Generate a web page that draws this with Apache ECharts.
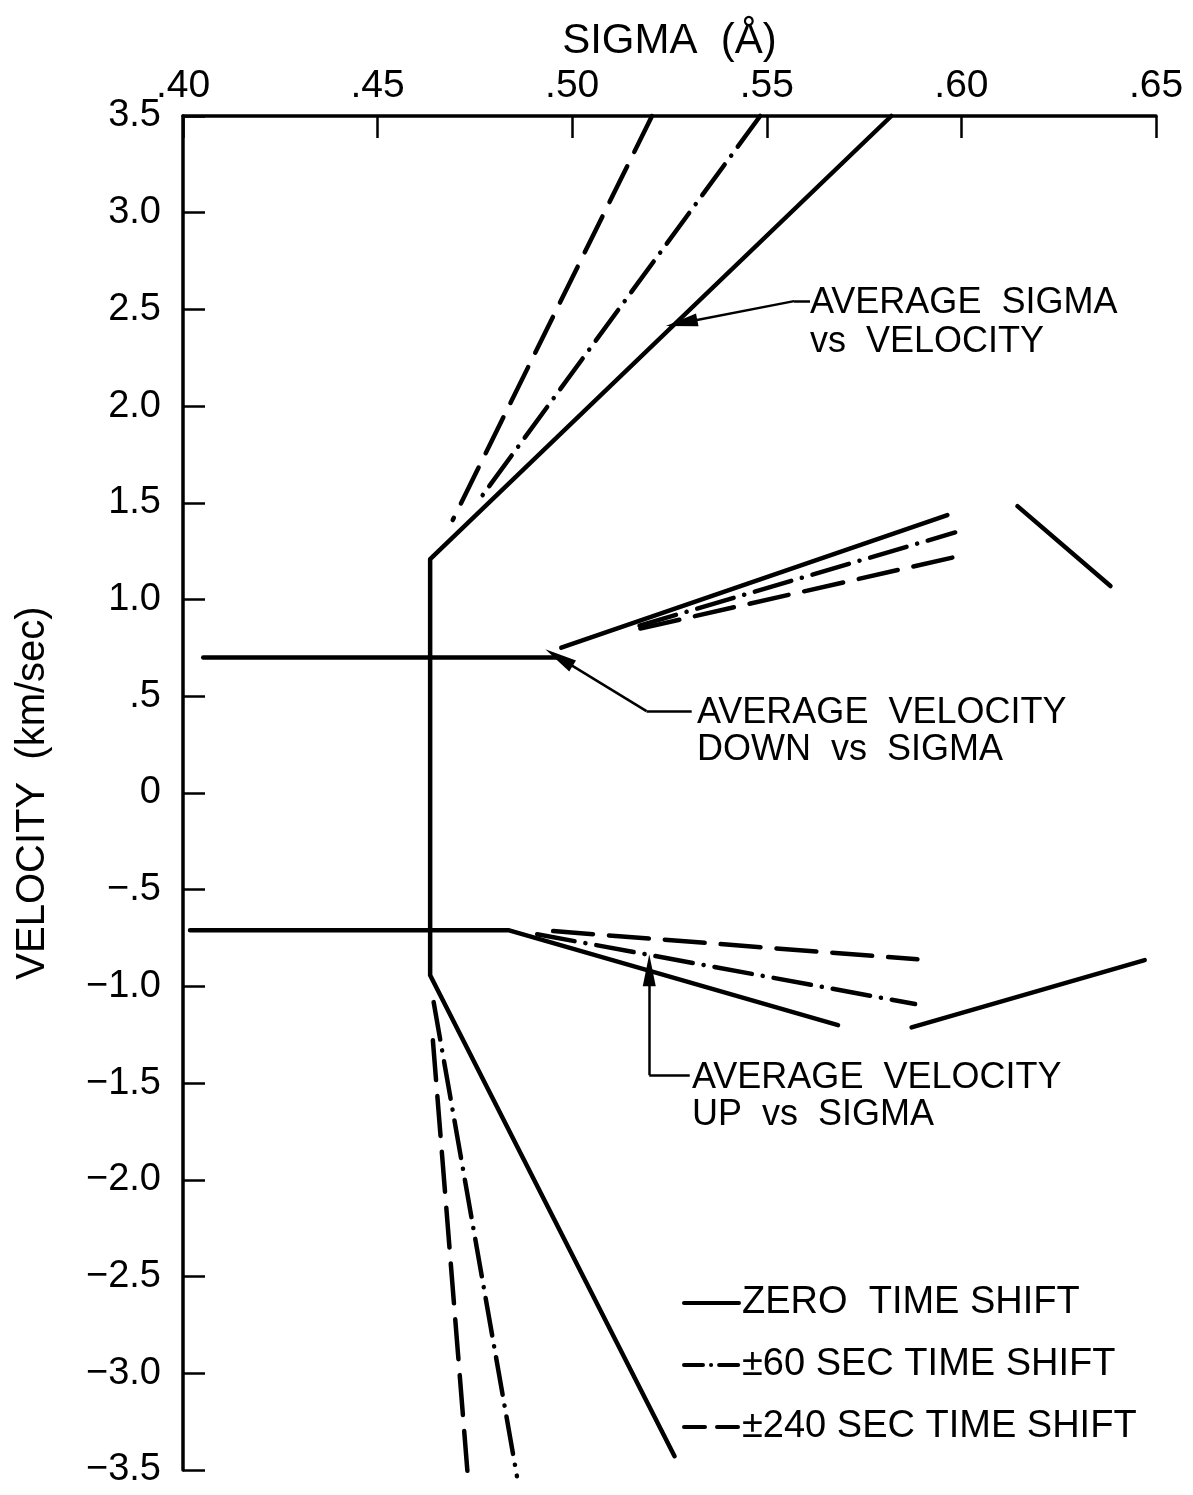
<!DOCTYPE html>
<html>
<head>
<meta charset="utf-8">
<script src="https://cdn.jsdelivr.net/npm/echarts@6/dist/echarts.min.js"></script>
<style>
html,body{margin:0;padding:0;background:#fff;}
#chart{width:1193px;height:1495px;}
</style>
</head>
<body>
<div id="chart"></div>
<script>
// ---- Tick labels ----
const xTickLabels = ['.40', '.45', '.50', '.55', '.60', '.65'];
const yTickLabels = ['\u22123.5','\u22123.0','\u22122.5','\u22122.0','\u22121.5','\u22121.0','\u2212.5','0','.5','1.0','1.5','2.0','2.5','3.0','3.5'];

// ---- Series: [sigma (Å), velocity (km/sec)] ----
// ZERO TIME SHIFT (solid)
const zeroSigmaVsVel = [[0.582, 3.5], [0.4635, 1.209], [0.4635, -0.942], [0.5263, -3.429]];
const zeroDownFlat   = [[0.4052, 0.70], [0.4964, 0.70]];
const zeroDownRise   = [[0.4972, 0.751], [0.5964, 1.437]];
const zeroDownRight  = [[0.6144, 1.483], [0.6383, 1.070]];
const zeroUp         = [[0.4018, -0.71], [0.4838, -0.71], [0.5683, -1.20]];
const zeroUpRight    = [[0.5872, -1.212], [0.6471, -0.864]];
// ±60 SEC TIME SHIFT (dash-dot)
const s60Upper = [[0.5483, 3.5], [0.4755, 1.499]];
const s60Lower = [[0.4644, -1.081], [0.4858, -3.532]];
const s60Down  = [[0.5173, 0.865], [0.5984, 1.347]];
const s60Up    = [[0.4910, -0.730], [0.5881, -1.091]];
// ±240 SEC TIME SHIFT (dashed)
const s240Upper = [[0.5205, 3.5], [0.4693, 1.411]];
const s240Lower = [[0.4642, -1.278], [0.4732, -3.537]];
const s240Down  = [[0.5175, 0.850], [0.5979, 1.218]];
const s240Up    = [[0.4951, -0.714], [0.5887, -0.860]];

// ---- Annotation leaders (data coords): tip, bend, end ----
const leaderSigma = [[0.5281, 2.430], [0.5570, 2.543], [0.5611, 2.543]];
const leaderDown  = [[0.4966, 0.700], [0.5191, 0.4235], [0.5307, 0.4235]];
const leaderUp    = [[0.5198, -0.916], [0.5198, -1.459], [0.5302, -1.459]];

// ---- Legend entries ----
const legendNames = ['ZERO  TIME SHIFT', '\u00b160 SEC TIME SHIFT', '\u00b1240 SEC TIME SHIFT'];

const FONT = 'Liberation Sans, Arial, sans-serif';
const DASHDOT = [38, 11, 0.1, 11];
const DASHED = [40, 16];
const LW = 4.5;

function seg(name, data, type) {
  return {
    name: name, type: 'line', data: data, symbol: 'none', clip: false,
    silent: true, animation: false,
    itemStyle: { color: '#000' },
    lineStyle: { color: '#000', width: LW, type: type, cap: 'round', join: 'round' }
  };
}

function leader(pts) {
  return [
    [{ coord: pts[0], symbol: 'triangle', symbolSize: [13, 32] }, { coord: pts[1], symbol: 'none' }],
    [{ coord: pts[1], symbol: 'none' }, { coord: pts[2], symbol: 'none' }]
  ];
}

const series = [
  seg(legendNames[0], zeroSigmaVsVel, 'solid'),
  seg(legendNames[0], zeroDownFlat, 'solid'),
  seg(legendNames[0], zeroDownRise, 'solid'),
  seg(legendNames[0], zeroDownRight, 'solid'),
  seg(legendNames[0], zeroUp, 'solid'),
  seg(legendNames[0], zeroUpRight, 'solid'),
  seg(legendNames[1], s60Upper, DASHDOT),
  seg(legendNames[1], s60Lower, DASHDOT),
  seg(legendNames[1], s60Down, DASHDOT),
  seg(legendNames[1], s60Up, DASHDOT),
  seg(legendNames[2], s240Upper, DASHED),
  seg(legendNames[2], s240Lower, DASHED),
  seg(legendNames[2], s240Down, DASHED),
  seg(legendNames[2], s240Up, DASHED),
  {
    name: 'annotations', type: 'line', data: [], symbol: 'none', silent: true, animation: false,
    markLine: {
      silent: true, animation: false,
      label: { show: false },
      itemStyle: { color: '#000' },
      lineStyle: { color: '#000', width: 2.5, type: 'solid' },
      data: [].concat(leader(leaderSigma), leader(leaderDown), leader(leaderUp))
    }
  }
];

const chart = echarts.init(document.getElementById('chart'), null, { renderer: 'canvas' });

const annText = (x, y, t, fs) => ({
  type: 'text', x: x, y: y, silent: true, z: 10,
  style: { text: t, fill: '#000', fontSize: fs || 36, fontFamily: FONT, verticalAlign: 'middle', align: 'left' }
});
const keyLine = (y, dash) => ({
  type: 'line', silent: true, z: 10,
  shape: { x1: 684, y1: y, x2: 739, y2: y },
  style: { stroke: '#000', lineWidth: 4, lineDash: dash, lineCap: 'round' }
});

chart.setOption({
  backgroundColor: '#fff',
  animation: false,
  grid: { left: 183, top: 116, right: 37, bottom: 25, containLabel: false },
  xAxis: {
    type: 'value', position: 'top', min: 0.40, max: 0.65, interval: 0.05,
    name: 'SIGMA  (\u00c5)', nameLocation: 'middle', nameGap: 50,
    nameTextStyle: { color: '#000', fontSize: 42, fontFamily: FONT },
    axisLine: { show: true, onZero: false, lineStyle: { color: '#000', width: 3.5 } },
    axisTick: { show: true, inside: true, length: 22, lineStyle: { color: '#000', width: 2.5 } },
    axisLabel: { color: '#000', fontSize: 39, fontFamily: FONT, margin: 10,
      formatter: (v) => xTickLabels[Math.round((v - 0.40) / 0.05)] },
    splitLine: { show: false }
  },
  yAxis: {
    type: 'value', min: -3.5, max: 3.5, interval: 0.5,
    name: 'VELOCITY  (km/sec)', nameLocation: 'middle', nameGap: 130, nameRotate: 90,
    nameTextStyle: { color: '#000', fontSize: 40, fontFamily: FONT },
    axisLine: { show: true, onZero: false, lineStyle: { color: '#000', width: 3.5 } },
    axisTick: { show: true, inside: true, length: 22, lineStyle: { color: '#000', width: 2.5 } },
    axisLabel: { color: '#000', fontSize: 38, fontFamily: FONT, margin: 22,
      formatter: (v) => yTickLabels[Math.round((v + 3.5) / 0.5)] },
    splitLine: { show: false }
  },
  graphic: [
    annText(810, 303, 'AVERAGE  SIGMA'),
    annText(810, 342, 'vs  VELOCITY'),
    annText(697, 713, 'AVERAGE  VELOCITY'),
    annText(697, 750, 'DOWN  vs  SIGMA'),
    annText(692, 1078, 'AVERAGE  VELOCITY'),
    annText(692, 1115, 'UP  vs  SIGMA'),
    keyLine(1303, null),
    keyLine(1365, [19, 8, 0.1, 8]),
    keyLine(1427, [21, 12]),
    annText(742, 1303, legendNames[0], 38),
    annText(742, 1365, legendNames[1], 38),
    annText(742, 1427, legendNames[2], 38)
  ],
  series: series
});
</script>
</body>
</html>
